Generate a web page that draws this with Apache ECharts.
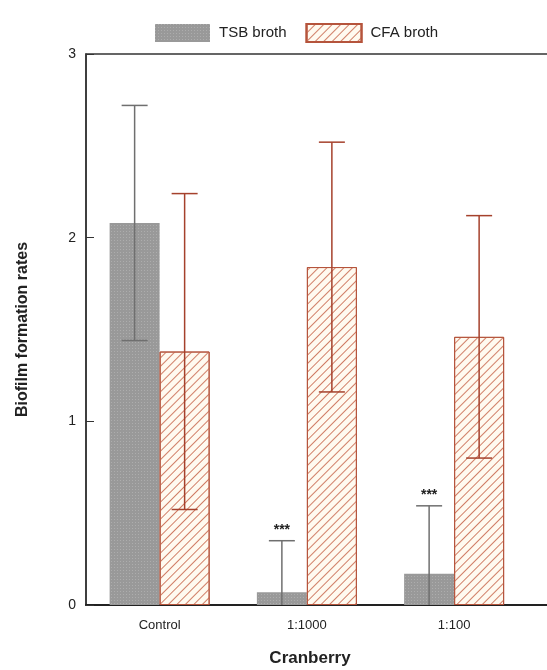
<!DOCTYPE html>
<html><head><meta charset="utf-8">
<script src="https://cdn.jsdelivr.net/npm/echarts@6/dist/echarts.min.js"></script>
<style>html,body{margin:0;padding:0;background:#fff}#c{width:547px;height:670px}</style>
</head><body><div id="c"></div>
<script>
var categories = ['Control', '1:1000', '1:100', ''];
var tsbMean = [2.08, 0.07, 0.17];
var tsbErr = [0.64, 0.28, 0.37];
var cfaMean = [1.38, 1.84, 1.46];
var cfaErr = [0.86, 0.68, 0.66];
var tsbStars = ['', '***', '***'];
var yTicks = [0, 1, 2, 3];

var chart = echarts.init(document.getElementById('c'));
var FONT = '"Liberation Sans", Arial, sans-serif';

function errSeries(name, means, errs, seriesIdx, color, stars) {
  var data = means.map(function (m, i) { return [i, m, errs[i], stars ? stars[i] : '']; });
  return {
    type: 'custom', name: name + ' err', silent: true, z: 5,
    data: data,
    renderItem: function (params, api) {
      var i = api.value(0), m = api.value(1), e = api.value(2);
      var base = api.coord([i, m]);
      var offset = seriesIdx === 0 ? -25 : 25;
      var x = base[0] + offset;
      var top = api.coord([i, m + e])[1];
      var bot = api.coord([i, Math.max(m - e, 0)])[1];
      var cap = 13;
      var children = [
        { type: 'line', shape: { x1: x, y1: top, x2: x, y2: bot }, style: { stroke: color, lineWidth: 1.5 } },
        { type: 'line', shape: { x1: x - cap, y1: top, x2: x + cap, y2: top }, style: { stroke: color, lineWidth: 1.5 } }
      ];
      if (m - e > 0) children.push({ type: 'line', shape: { x1: x - cap, y1: bot, x2: x + cap, y2: bot }, style: { stroke: color, lineWidth: 1.5 } });
      var s = data[params.dataIndex][3];
      if (s) children.push({ type: 'text', style: { text: s, x: x, y: top - 4, align: 'center', verticalAlign: 'bottom', font: 'bold 14px ' + FONT, fill: '#222' } });
      return { type: 'group', children: children };
    }
  };
}

chart.setOption({
  animation: false,
  textStyle: { fontFamily: FONT },
  legend: {
    top: 18, left: 150, itemWidth: 55, itemHeight: 18, itemGap: 19, icon: 'rect',
    textStyle: { fontSize: 15, color: '#222', padding: [0, 0, 0, 4] },
    data: ['TSB broth', 'CFA broth']
  },
  grid: { left: 86, top: 54, width: 589, height: 551, outerBoundsMode: 'none', containLabel: false, show: true, borderColor: '#333', borderWidth: 1.5, backgroundColor: 'transparent' },
  xAxis: {
    type: 'category', data: categories,
    axisLine: { lineStyle: { color: '#222', width: 2 } },
    axisTick: { show: false },
    axisLabel: { fontSize: 13, color: '#222', margin: 14 },
    name: 'Cranberry', nameLocation: 'middle', nameGap: 45,
    nameTextStyle: { fontSize: 17, fontWeight: 'bold', color: '#222', padding: [0, 141, 0, 0] }
  },
  yAxis: {
    type: 'value', min: 0, max: 3, interval: 1,
    axisLine: { show: true, lineStyle: { color: '#333', width: 1.5 } },
    axisTick: { show: true, inside: true, length: 8, lineStyle: { color: '#333' } },
    splitLine: { show: false },
    axisLabel: { fontSize: 14, color: '#222', margin: 10 },
    name: 'Biofilm formation rates', nameLocation: 'middle', nameGap: 55, nameRotate: 90,
    nameTextStyle: { fontSize: 16, fontWeight: 'bold', color: '#222' }
  },
  series: [
    {
      name: 'TSB broth', type: 'bar', data: tsbMean, barWidth: 50, barGap: '0%',
      itemStyle: {
        color: '#999999',
        decal: { symbol: 'rect', color: 'rgba(255,255,255,0.2)', dashArrayX: [1, 2], dashArrayY: [1, 2], symbolSize: 1, rotation: 0 }
      }
    },
    {
      name: 'CFA broth', type: 'bar', data: cfaMean, barWidth: 50,
      itemStyle: {
        color: '#fffaf0', borderColor: '#b5543c', borderWidth: 1,
        decal: { symbol: 'rect', color: '#d07e66', dashArrayX: [1, 0], dashArrayY: [1, 4.5], symbolSize: 1, rotation: -Math.PI / 4 }
      }
    },
    errSeries('TSB', tsbMean, tsbErr, 0, '#6f6f6f', tsbStars),
    errSeries('CFA', cfaMean, cfaErr, 1, '#a5412c', null)
  ]
});
</script></body></html>
